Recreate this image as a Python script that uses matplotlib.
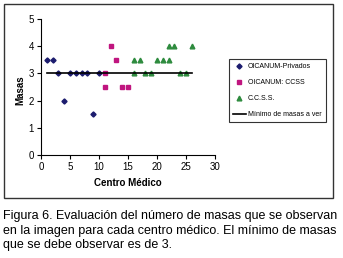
import matplotlib
matplotlib.use('Agg')
import matplotlib.pyplot as plt
from matplotlib.patches import Rectangle

plt.rcParams['font.family'] = ['Liberation Sans', 'DejaVu Sans']

#data
priv_x = [1, 2, 3, 4, 5, 6, 7, 8, 9, 10]
priv_y = [3.5, 3.5, 3, 2, 3, 3, 3, 3, 1.5, 3]
ccss_x = [11, 11, 12, 13, 14, 15]
ccss_y = [3, 2.5, 4, 3.5, 2.5, 2.5]
cs_x = [16, 16, 17, 18, 19, 20, 21, 22, 22, 23, 24, 25, 26]
cs_y = [3, 3.5, 3.5, 3, 3, 3.5, 3.5, 4, 3.5, 4, 3, 3, 4]
min_x = [1, 26]
min_y = [3, 3]
labels = ['OICANUM-Privados', 'OICANUM: CCSS', 'C.C.S.S.', 'Mínimo de masas a ver']
caption = ('Figura 6. Evaluación del número de masas que se observan\n'
           'en la imagen para cada centro médico. El mínimo de masas\n'
           'que se debe observar es de 3.')

W, H = 343, 258
fig = plt.figure(figsize=(W / 100, H / 100), dpi=100)

#outer chart frame
fig.patches.append(Rectangle((4 / W, 1 - 198 / H), 329 / W, 194 / H,
                             transform=fig.transFigure, fill=False,
                             edgecolor='#333333', linewidth=1))

ax = fig.add_axes([41 / W, 1 - 155 / H, 174 / W, 136 / H])
ax.plot(priv_x, priv_y, 'D', color='#1c1c6e', markersize=2.6, linestyle='none', label=labels[0])
ax.plot(ccss_x, ccss_y, 's', color='#c0157f', markersize=2.4, linestyle='none', label=labels[1])
ax.plot(cs_x, cs_y, '^', color='#2e8b3e', markersize=3.4, linestyle='none', label=labels[2])
ax.plot(min_x, min_y, '-', color='black', linewidth=1.2, label=labels[3])

ax.set_xlim(0, 30)
ax.set_ylim(0, 5)
ax.set_xticks([0, 5, 10, 15, 20, 25, 30])
ax.set_yticks([0, 1, 2, 3, 4, 5])
ax.tick_params(labelsize=7, length=3, width=0.8, direction='out', pad=2)
for s in ['top', 'right']:
    ax.spines[s].set_visible(False)
for s in ['left', 'bottom']:
    ax.spines[s].set_linewidth(0.8)

fig.text(20 / W, 1 - 90 / H, 'Masas', rotation=90, fontsize=7, fontweight='bold',
         ha='center', va='center')
fig.text(128 / W, 1 - 183 / H, 'Centro Médico', fontsize=7, fontweight='bold',
         ha='center', va='center')

leg = fig.legend(loc='upper left', bbox_to_anchor=(229 / W, 1 - 59 / H),
                 fontsize=5, frameon=True, fancybox=False, edgecolor='black',
                 handlelength=1.8, handletextpad=0.3, borderpad=0.6,
                 labelspacing=1.3, borderaxespad=0)
leg.get_frame().set_linewidth(0.8)

#caption under the chart
fig.text(3 / W, 1 - 210 / H, caption, fontsize=9.0, va='top', ha='left',
         linespacing=1.3)

fig.savefig('out.png', dpi=100)
